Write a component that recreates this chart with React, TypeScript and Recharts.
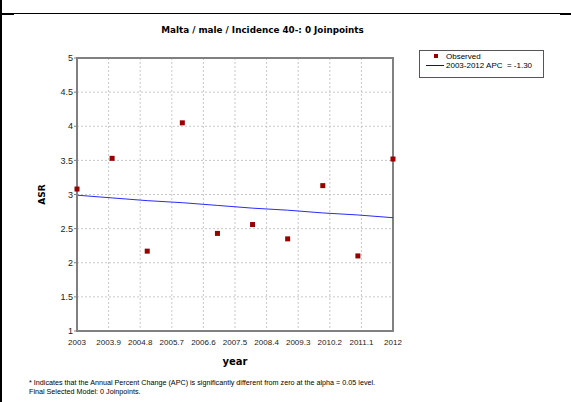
import React from 'react';
import {
  ComposedChart,
  Scatter,
  Line,
  XAxis,
  YAxis,
  CartesianGrid,
  ReferenceArea,
} from 'recharts';

const years = [2003, 2004, 2005, 2006, 2007, 2008, 2009, 2010, 2011, 2012];
const observed = [3.08, 3.53, 2.17, 4.05, 2.43, 2.56, 2.35, 3.13, 2.1, 3.52];
const fitted = [2.99, 2.95, 2.91, 2.88, 2.84, 2.8, 2.77, 2.73, 2.7, 2.66];
const xTicks = [2003, 2003.9, 2004.8, 2005.7, 2006.6, 2007.5, 2008.4, 2009.3, 2010.2, 2011.1, 2012];
const yTicks = [1, 1.5, 2, 2.5, 3, 3.5, 4, 4.5, 5];
const title = 'Malta / male / Incidence 40-: 0 Joinpoints';
const legendObserved = 'Observed';
const legendFit = '2003-2012 APC  = -1.30';
const footnote1 = '* Indicates that the Annual Percent Change (APC) is significantly different from zero at the alpha = 0.05 level.';
const footnote2 = 'Final Selected Model: 0 Joinpoints.';

const data = years.map((y, i) => ({ year: y, obs: observed[i], fit: fitted[i] }));

const SMALL_FONT = '"Liberation Sans", Arial, sans-serif';
const BOLD_FONT = '"DejaVu Sans", Verdana, sans-serif';

const SquareShape = (props: any) => {
  const { cx, cy } = props;
  if (cx == null || cy == null) return null;
  return <rect x={cx - 2.5} y={cy - 2.5} width={5} height={5} fill="#990000" />;
};

const LegendBox = () => (
  <div
    style={{
      position: 'absolute',
      left: 419,
      top: 50,
      width: 125,
      height: 28,
      border: '1px solid #555',
      background: '#fff',
      fontFamily: SMALL_FONT,
      fontSize: 8,
      color: '#000',
      boxSizing: 'border-box',
    }}
  >
    <svg width={26} height={26} style={{ position: 'absolute', left: 0, top: 0 }}>
      <rect x={14} y={3} width={4} height={4} fill="#990000" />
      <line x1={6} x2={24} y1={14.5} y2={14.5} stroke="#0000ff" strokeWidth={1} />
    </svg>
    <div style={{ position: 'absolute', left: 26, top: 1, lineHeight: '9px', whiteSpace: 'pre' }}>
      {legendObserved}
    </div>
    <div style={{ position: 'absolute', left: 26, top: 10, lineHeight: '9px', whiteSpace: 'pre' }}>
      {legendFit}
    </div>
  </div>
);

export default function App() {
  return (
    <div style={{ position: 'absolute', left: 0, top: 0, width: 571, height: 402, background: '#fff', overflow: 'hidden' }}>
      <div style={{ position: 'absolute', left: 0, top: 0, width: 2, height: 402, background: '#000' }} />
      <div style={{ position: 'absolute', left: 0, top: 13, width: 571, height: 1, background: '#000' }} />
      <div style={{ position: 'absolute', left: 0, top: 13, width: 14, height: 2, background: '#000' }} />
      <div style={{ position: 'absolute', left: 560, top: 13, width: 11, height: 2, background: '#000' }} />
      <div
        style={{
          position: 'absolute',
          left: 0,
          width: 525,
          top: 25,
          textAlign: 'center',
          fontFamily: BOLD_FONT,
          fontWeight: 'bold',
          fontSize: 8.8,
          color: '#000',
          whiteSpace: 'nowrap',
        }}
      >
        {title}
      </div>
      <ComposedChart
        width={571}
        height={402}
        data={data}
        margin={{ top: 58, right: 178, bottom: 51, left: 37 }}
        style={{ position: 'absolute', left: 0, top: 0 }}
      >
        <CartesianGrid stroke="#c8c8c8" strokeDasharray="2 2" />
        <XAxis
          dataKey="year"
          type="number"
          domain={[2003, 2012]}
          ticks={xTicks}
          interval={0}
          height={20}
          tick={{ fontSize: 8, fontFamily: SMALL_FONT, fill: '#222' }}
          tickLine={false}
          axisLine={{ stroke: '#808080', strokeWidth: 2 }}
          tickMargin={2}
          label={{ value: 'year', position: 'insideBottom', offset: -14, style: { fontFamily: BOLD_FONT, fontWeight: 'bold', fontSize: 10, fill: '#000' } }}
        />
        <YAxis
          type="number"
          domain={[1, 5]}
          ticks={yTicks}
          interval={0}
          width={40}
          tick={{ fontSize: 9, fontFamily: SMALL_FONT, fill: '#222' }}
          tickSize={3}
          tickLine={{ stroke: '#808080' }}
          tickMargin={1}
          axisLine={{ stroke: '#808080', strokeWidth: 2 }}
          label={{ value: 'ASR', angle: -90, position: 'insideLeft', offset: 5, style: { fontFamily: BOLD_FONT, fontWeight: 'bold', fontSize: 9, fill: '#000', textAnchor: 'middle' } }}
        />
        <ReferenceArea x1={2003} x2={2012} y1={1} y2={5} fill="none" stroke="#808080" strokeWidth={2} ifOverflow="visible" />
        <Line dataKey="fit" stroke="#2a2aff" strokeWidth={1} dot={false} isAnimationActive={false} type="linear" />
        <Scatter dataKey="obs" shape={<SquareShape />} isAnimationActive={false} />
      </ComposedChart>
      <LegendBox />
      <div
        style={{
          position: 'absolute',
          left: 29,
          top: 378,
          fontFamily: SMALL_FONT,
          fontSize: 7.2,
          lineHeight: '9px',
          color: '#000',
          whiteSpace: 'nowrap',
        }}
      >
        <div>{footnote1}</div>
        <div>{footnote2}</div>
      </div>
    </div>
  );
}
